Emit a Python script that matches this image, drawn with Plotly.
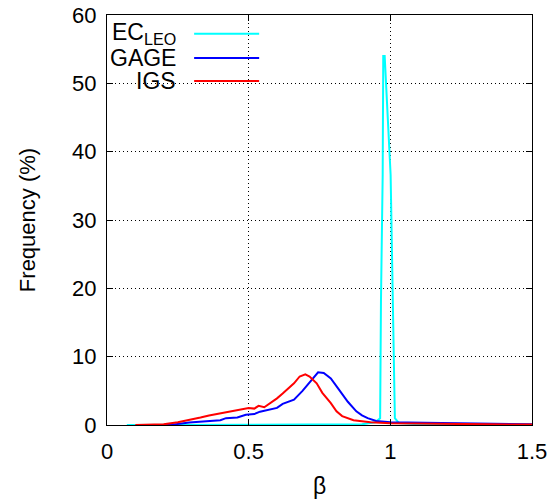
import plotly.graph_objects as go

# ---- data ----
ec_beta = [0.07, 0.30, 0.45, 0.50, 0.55, 0.70, 0.90, 0.946, 0.964, 0.967, 0.973, 0.975,
           0.980, 1.001, 1.010, 1.016, 1.03, 1.10, 1.30, 1.50]
ec_freq = [0.0, 0.02, 0.05, 0.1, 0.05, 0.03, 0.1, 0.4, 1.0, 18.3, 36.6, 54.0,
           54.0, 36.6, 18.3, 1.0, 0.3, 0.1, 0.05, 0.03]

gage_beta = [0.13, 0.23, 0.29, 0.35, 0.40, 0.42, 0.46, 0.49, 0.52, 0.54, 0.575, 0.60,
             0.62, 0.66, 0.69, 0.715, 0.745, 0.765, 0.79, 0.82, 0.85, 0.88, 0.90,
             0.92, 0.95, 1.00, 1.07, 1.20, 1.35, 1.50]
gage_freq = [0.0, 0.05, 0.35, 0.6, 0.7, 1.0, 1.1, 1.5, 1.6, 1.95, 2.3, 2.5,
             3.1, 3.7, 5.0, 6.3, 7.7, 7.6, 6.8, 5.1, 3.4, 2.0, 1.4,
             1.0, 0.6, 0.4, 0.35, 0.22, 0.15, 0.1]

igs_beta = [0.10, 0.15, 0.20, 0.25, 0.29, 0.33, 0.36, 0.40, 0.43, 0.47, 0.50, 0.52,
            0.535, 0.555, 0.58, 0.60, 0.62, 0.64, 0.66, 0.68, 0.70, 0.715, 0.74,
            0.76, 0.79, 0.81, 0.83, 0.87, 0.93, 1.00, 1.10, 1.20, 1.35, 1.50]
igs_freq = [0.0, 0.02, 0.1, 0.4, 0.7, 1.1, 1.4, 1.7, 1.95, 2.2, 2.5, 2.4,
            2.8, 2.6, 3.3, 3.9, 4.6, 5.3, 6.1, 7.1, 7.4, 7.1, 6.1,
            4.7, 3.2, 2.0, 1.3, 0.7, 0.4, 0.25, 0.18, 0.14, 0.1, 0.08]

series_names = ["EC<sub>LEO</sub>", "GAGE", "IGS"]
series_colors = ["#00ffff", "#0000ff", "#ff0000"]

x_ticks = [0, 0.5, 1, 1.5]
x_tick_text = ["0", "0.5", "1", "1.5"]
y_ticks = [0, 10, 20, 30, 40, 50, 60]

FONT = "Liberation Sans, Arial, Helvetica, sans-serif"

fig = go.Figure()
for xs, ys, name, col in zip([ec_beta, gage_beta, igs_beta],
                             [ec_freq, gage_freq, igs_freq],
                             series_names, series_colors):
    fig.add_trace(go.Scatter(x=xs, y=ys, mode="lines", name=name,
                             line=dict(color=col, width=2), showlegend=False))

# legend drawn gnuplot-style: white box, right-aligned labels, sample lines to the right
fig.add_shape(type="rect", xref="paper", yref="paper", x0=0.003, x1=0.384,
              y0=0.822, y1=0.997, fillcolor="white", line=dict(width=0),
              layer="between")
leg_y = [0.954, 0.895, 0.839]
for name, col, yy in zip(series_names, series_colors, leg_y):
    fig.add_annotation(xref="paper", yref="paper", x=0.167, y=yy, text=name,
                       showarrow=False, xanchor="right", yanchor="middle",
                       font=dict(size=23, color="black", family=FONT))
    fig.add_shape(type="line", xref="paper", yref="paper", x0=0.205, x1=0.358,
                  y0=yy, y1=yy, line=dict(color=col, width=2))

axis_common = dict(
    showline=True, linecolor="black", linewidth=1, mirror="ticks",
    ticks="inside", ticklen=6, tickcolor="black", tickwidth=1,
    showgrid=True, gridcolor="black", gridwidth=1, griddash="1px,3px",
    zeroline=False, automargin=False,
    tickfont=dict(size=22, color="black", family=FONT),
)

fig.update_xaxes(range=[0, 1.5], tickvals=x_ticks, ticktext=x_tick_text,
                 ticklabelstandoff=7,
                 title=dict(text="β", font=dict(size=23, color="black", family=FONT),
                            standoff=14),
                 **axis_common)
fig.update_yaxes(range=[0, 60], tickvals=y_ticks, ticklabelstandoff=5,
                 title=dict(text="Frequency (%)",
                            font=dict(size=22, color="black", family=FONT), standoff=30),
                 **axis_common)

fig.update_layout(
    width=553, height=500,
    margin=dict(l=107, r=21, t=15, b=75),
    paper_bgcolor="white", plot_bgcolor="white",
    font=dict(family=FONT, color="black"),
)

fig.write_html("out.html")
